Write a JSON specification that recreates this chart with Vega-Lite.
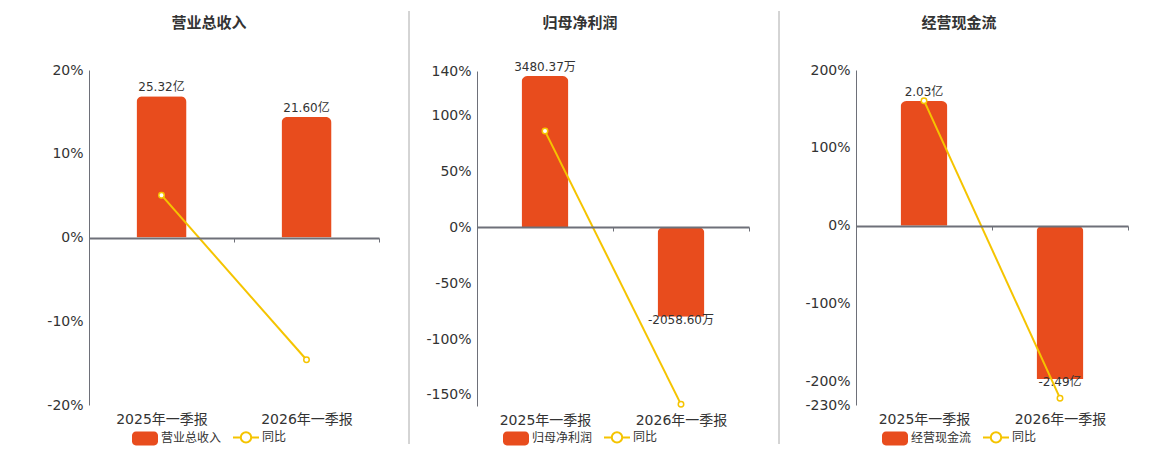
{
  "$schema": "https://vega.github.io/schema/vega-lite/v6.json",
  "padding": {"left": 46, "top": 10, "right": 0, "bottom": 0},
  "config": {
    "view": {"stroke": null},
    "font": "DejaVu Sans, Noto Sans CJK SC, sans-serif",
    "axis": {"labelFont": "DejaVu Sans, Noto Sans CJK SC, sans-serif"},
    "legend": {"labelFont": "Noto Sans CJK SC"}
  },
  "datasets": {
    "p1": [
      {"period": "2025年一季报", "value": 25.32, "label": "25.32亿", "yoy": 5.05},
      {"period": "2026年一季报", "value": 21.60, "label": "21.60亿", "yoy": -14.6}
    ],
    "p2": [
      {"period": "2025年一季报", "value": 3480.37, "label": "3480.37万", "yoy": 86.2},
      {"period": "2026年一季报", "value": -2058.60, "label": "-2058.60万", "yoy": -158.5}
    ],
    "p3": [
      {"period": "2025年一季报", "value": 2.03, "label": "2.03亿", "yoy": 160.6},
      {"period": "2026年一季报", "value": -2.49, "label": "-2.49亿", "yoy": -221.2}
    ],
    "titles": [{"t1": "营业总收入", "t2": "归母净利润", "t3": "经营现金流"}],
    "div": [{"d": 1}]
  },
  "hconcat": [
    {"spacing": 28, "vconcat": [
      {"width": 240, "height": 24, "data": {"name": "titles"},
       "mark": {"type": "text", "font": "Noto Sans CJK SC", "fontSize": 15, "fontWeight": "bold", "color": "#333333", "baseline": "middle"},
       "encoding": {"text": {"field": "t1"}}},
      {
      "width": 290, "height": 335,
      "data": {"name": "p1"},
      "encoding": {
        "x": {"field": "period", "type": "nominal", "sort": null,
          "scale": {"paddingInner": 0, "paddingOuter": 0},
          "axis": {"title": null, "labelAngle": 0, "offset": -167, "domainColor": "#6e7079", "domainWidth": 2, "tickColor": "#6e7079", "tickSize": 4, "tickBand": "extent", "labelPadding": 170, "labelFontSize": 14, "labelColor": "#333333", "zindex": 1}}
      },
      "layer": [
        {
          "layer": [
            {"mark": {"type": "bar", "width": {"band": 0.345}, "cornerRadiusEnd": 6},
             "encoding": {"color": {"datum": "营业总收入", "type": "nominal",
               "scale": {"domain": ["营业总收入", "同比"], "range": ["#e84c1d", "#f5c400"]},
               "legend": {"orient": "none", "legendX": 50, "legendY": 420, "direction": "horizontal", "title": null, "labelFontSize": 12, "labelColor": "#333333", "symbolSize": 676, "labelOffset": 10, "columnPadding": 7,
                 "encode": {"symbols": {"update": {
                   "shape": {"signal": "datum.value === '同比' ? 'M-1,0H-0.4M0.4,0H1M0.4,0A0.4,0.4 0 1 1 -0.4,0A0.4,0.4 0 1 1 0.4,0' : 'M-0.7,-0.54H0.7A0.3,0.3 0 0 1 1,-0.24V0.24A0.3,0.3 0 0 1 0.7,0.54H-0.7A0.3,0.3 0 0 1 -1,0.24V-0.24A0.3,0.3 0 0 1 -0.7,-0.54Z'"},
                   "fill": {"signal": "datum.value === '同比' ? '#ffffff' : '#e84c1d'"},
                   "fillOpacity": {"signal": "datum.value === '同比' ? 0 : 1"},
                   "stroke": {"signal": "datum.value === '同比' ? '#f5c400' : '#e84c1d'"},
                   "strokeWidth": {"signal": "datum.value === '同比' ? 2 : 0"},
                   "strokeOpacity": {"value": 1}, "opacity": {"value": 1}}}}}}}},
            {"transform": [{"filter": "datum.value >= 0"}],
             "mark": {"type": "text", "baseline": "bottom", "dy": -2, "fontSize": 12, "color": "#333333"},
             "encoding": {"text": {"field": "label"}}},
            {"transform": [{"filter": "datum.value < 0"}],
             "mark": {"type": "text", "baseline": "middle", "dy": 3, "fontSize": 12, "color": "#333333"},
             "encoding": {"text": {"field": "label"}}}
          ],
          "encoding": {"y": {"field": "value", "type": "quantitative", "scale": {"domain": [-30, 30]}, "axis": null}}
        },
        {
          "mark": {"type": "line", "strokeWidth": 2, "point": {"filled": false, "fill": "white", "size": 30, "strokeWidth": 1.5}},
          "encoding": {
            "y": {"field": "yoy", "type": "quantitative", "scale": {"domain": [-20, 20], "nice": false},
              "axis": {"orient": "left", "title": null, "values": [-20, -10, 0, 10, 20], "labelExpr": "datum.value + '%'", "labelFontSize": 14, "labelColor": "#333333", "domainColor": "#6e7079", "ticks": false, "gridColor": "#e0e6f1", "labelPadding": 6}},
            "color": {"datum": "同比", "type": "nominal"}
          }
        }
      ],
      "resolve": {"scale": {"y": "independent"}}
    }]},
    {
      "width": 14, "height": 433,
      "data": {"name": "div"},
      "mark": {"type": "rule", "color": "#aaaaaa", "strokeWidth": 1},
      "encoding": {"x": {"field": "d", "type": "quantitative", "scale": {"domain": [0, 1]}, "axis": null}}
    },
    {"spacing": 25, "vconcat": [
      {"width": 206, "height": 24, "data": {"name": "titles"},
       "mark": {"type": "text", "font": "Noto Sans CJK SC", "fontSize": 15, "fontWeight": "bold", "color": "#333333", "baseline": "middle"},
       "encoding": {"text": {"field": "t2"}}},
      {
      "width": 272, "height": 335,
      "data": {"name": "p2"},
      "encoding": {
        "x": {"field": "period", "type": "nominal", "sort": null,
          "scale": {"paddingInner": 0, "paddingOuter": 0},
          "axis": {"title": null, "labelAngle": 0, "offset": -179, "domainColor": "#6e7079", "domainWidth": 2, "tickColor": "#6e7079", "tickSize": 4, "tickBand": "extent", "labelPadding": 182, "labelFontSize": 14, "labelColor": "#333333", "zindex": 1}}
      },
      "layer": [
        {
          "layer": [
            {"mark": {"type": "bar", "width": {"band": 0.345}, "cornerRadiusEnd": 6},
             "encoding": {"color": {"datum": "归母净利润", "type": "nominal",
               "scale": {"domain": ["归母净利润", "同比"], "range": ["#e84c1d", "#f5c400"]},
               "legend": {"orient": "none", "legendX": 33, "legendY": 420, "direction": "horizontal", "title": null, "labelFontSize": 12, "labelColor": "#333333", "symbolSize": 676, "labelOffset": 10, "columnPadding": 7,
                 "encode": {"symbols": {"update": {
                   "shape": {"signal": "datum.value === '同比' ? 'M-1,0H-0.4M0.4,0H1M0.4,0A0.4,0.4 0 1 1 -0.4,0A0.4,0.4 0 1 1 0.4,0' : 'M-0.7,-0.54H0.7A0.3,0.3 0 0 1 1,-0.24V0.24A0.3,0.3 0 0 1 0.7,0.54H-0.7A0.3,0.3 0 0 1 -1,0.24V-0.24A0.3,0.3 0 0 1 -0.7,-0.54Z'"},
                   "fill": {"signal": "datum.value === '同比' ? '#ffffff' : '#e84c1d'"},
                   "fillOpacity": {"signal": "datum.value === '同比' ? 0 : 1"},
                   "stroke": {"signal": "datum.value === '同比' ? '#f5c400' : '#e84c1d'"},
                   "strokeWidth": {"signal": "datum.value === '同比' ? 2 : 0"},
                   "strokeOpacity": {"value": 1}, "opacity": {"value": 1}}}}}}}},
            {"transform": [{"filter": "datum.value >= 0"}],
             "mark": {"type": "text", "baseline": "bottom", "dy": -2, "fontSize": 12, "color": "#333333"},
             "encoding": {"text": {"field": "label"}}},
            {"transform": [{"filter": "datum.value < 0"}],
             "mark": {"type": "text", "baseline": "middle", "dy": 3, "fontSize": 12, "color": "#333333"},
             "encoding": {"text": {"field": "label"}}}
          ],
          "encoding": {"y": {"field": "value", "type": "quantitative", "scale": {"domain": [-4109, 3595], "nice": false}, "axis": null}}
        },
        {
          "mark": {"type": "line", "strokeWidth": 2, "point": {"filled": false, "fill": "white", "size": 30, "strokeWidth": 1.5}},
          "encoding": {
            "y": {"field": "yoy", "type": "quantitative", "scale": {"domain": [-160, 140], "nice": false},
              "axis": {"orient": "left", "title": null, "values": [-160, -150, -100, -50, 0, 50, 100, 140], "labelExpr": "datum.value === -160 ? '' : datum.value + '%'", "labelFontSize": 14, "labelColor": "#333333", "domainColor": "#6e7079", "ticks": false, "gridColor": "#e0e6f1", "labelPadding": 6}},
            "color": {"datum": "同比", "type": "nominal"}
          }
        }
      ],
      "resolve": {"scale": {"y": "independent"}}
    }]},
    {
      "width": 14, "height": 433,
      "data": {"name": "div"},
      "mark": {"type": "rule", "color": "#aaaaaa", "strokeWidth": 1},
      "encoding": {"x": {"field": "d", "type": "quantitative", "scale": {"domain": [0, 1]}, "axis": null}}
    },
    {"spacing": 28, "vconcat": [
      {"width": 206, "height": 24, "data": {"name": "titles"},
       "mark": {"type": "text", "font": "Noto Sans CJK SC", "fontSize": 15, "fontWeight": "bold", "color": "#333333", "baseline": "middle"},
       "encoding": {"text": {"field": "t3"}}},
      {
      "width": 272, "height": 335,
      "data": {"name": "p3"},
      "encoding": {
        "x": {"field": "period", "type": "nominal", "sort": null,
          "scale": {"paddingInner": 0, "paddingOuter": 0},
          "axis": {"title": null, "labelAngle": 0, "offset": -179, "domainColor": "#6e7079", "domainWidth": 2, "tickColor": "#6e7079", "tickSize": 4, "tickBand": "extent", "labelPadding": 182, "labelFontSize": 14, "labelColor": "#333333", "zindex": 1}}
      },
      "layer": [
        {
          "layer": [
            {"mark": {"type": "bar", "width": {"band": 0.345}, "cornerRadiusEnd": 6},
             "encoding": {"color": {"datum": "经营现金流", "type": "nominal",
               "scale": {"domain": ["经营现金流", "同比"], "range": ["#e84c1d", "#f5c400"]},
               "legend": {"orient": "none", "legendX": 33, "legendY": 420, "direction": "horizontal", "title": null, "labelFontSize": 12, "labelColor": "#333333", "symbolSize": 676, "labelOffset": 10, "columnPadding": 7,
                 "encode": {"symbols": {"update": {
                   "shape": {"signal": "datum.value === '同比' ? 'M-1,0H-0.4M0.4,0H1M0.4,0A0.4,0.4 0 1 1 -0.4,0A0.4,0.4 0 1 1 0.4,0' : 'M-0.7,-0.54H0.7A0.3,0.3 0 0 1 1,-0.24V0.24A0.3,0.3 0 0 1 0.7,0.54H-0.7A0.3,0.3 0 0 1 -1,0.24V-0.24A0.3,0.3 0 0 1 -0.7,-0.54Z'"},
                   "fill": {"signal": "datum.value === '同比' ? '#ffffff' : '#e84c1d'"},
                   "fillOpacity": {"signal": "datum.value === '同比' ? 0 : 1"},
                   "stroke": {"signal": "datum.value === '同比' ? '#f5c400' : '#e84c1d'"},
                   "strokeWidth": {"signal": "datum.value === '同比' ? 2 : 0"},
                   "strokeOpacity": {"value": 1}, "opacity": {"value": 1}}}}}}}},
            {"transform": [{"filter": "datum.value >= 0"}],
             "mark": {"type": "text", "baseline": "bottom", "dy": -2, "fontSize": 12, "color": "#333333"},
             "encoding": {"text": {"field": "label"}}},
            {"transform": [{"filter": "datum.value < 0"}],
             "mark": {"type": "text", "baseline": "middle", "dy": 3, "fontSize": 12, "color": "#333333"},
             "encoding": {"text": {"field": "label"}}}
          ],
          "encoding": {"y": {"field": "value", "type": "quantitative", "scale": {"domain": [-2.914, 2.534], "nice": false}, "axis": null}}
        },
        {
          "mark": {"type": "line", "strokeWidth": 2, "point": {"filled": false, "fill": "white", "size": 30, "strokeWidth": 1.5}},
          "encoding": {
            "y": {"field": "yoy", "type": "quantitative", "scale": {"domain": [-230, 200], "nice": false},
              "axis": {"orient": "left", "title": null, "values": [-230, -200, -100, 0, 100, 200], "labelExpr": "datum.value + '%'", "labelFontSize": 14, "labelColor": "#333333", "domainColor": "#6e7079", "ticks": false, "gridColor": "#e0e6f1", "labelPadding": 6, "minExtent": 61}},
            "color": {"datum": "同比", "type": "nominal"}
          }
        }
      ],
      "resolve": {"scale": {"y": "independent"}}
    }]}
  ],
  "spacing": 15,
  "resolve": {"scale": {"color": "independent", "x": "independent", "y": "independent"}, "legend": {"color": "independent"}}
}
